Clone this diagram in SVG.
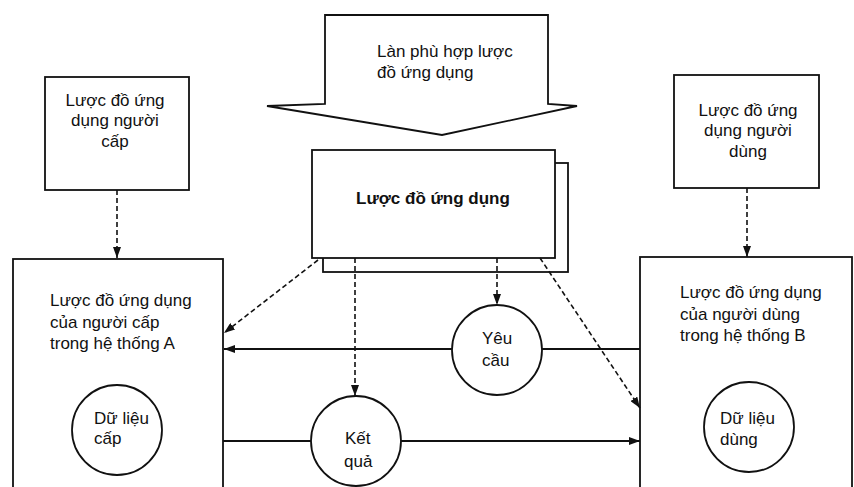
<svg xmlns="http://www.w3.org/2000/svg" width="854" height="487" viewBox="0 0 854 487">
<style>
.box{fill:#fff;stroke:#111;stroke-width:1.8}
.circ{fill:#fff;stroke:#111;stroke-width:1.8}
.t{font-family:"Liberation Sans",Arial,sans-serif;font-size:17px;fill:#111}
.tb{font-family:"Liberation Sans",Arial,sans-serif;font-size:17px;font-weight:bold;fill:#111}
.m{text-anchor:middle}
.dash{fill:none;stroke:#111;stroke-width:1.6;stroke-dasharray:5,3}
.solid{fill:none;stroke:#111;stroke-width:1.8}
</style>
<defs>
<marker id="ah" markerUnits="userSpaceOnUse" markerWidth="11" markerHeight="8" refX="11" refY="4" orient="auto">
<path d="M0,0 L11,4 L0,8 z" fill="#111"/>
</marker>
</defs>
<rect width="854" height="487" fill="#fff"/>
<g id="big-arrow">
<polygon class="box" points="325,15 548,15 548,104 577,106 442,135 267,106 325,104"/>
<text class="t" x="377" y="57">Làn phù hợp lược</text>
<text class="t" x="377" y="78">đồ ứng dụng</text>
</g>
<g id="app-schema">
<rect class="box" x="323" y="163" width="245" height="109"/>
<rect class="box" x="312" y="150" width="243" height="108"/>
<text class="tb m" x="433" y="204">Lược đồ ứng dụng</text>
</g>
<g id="supplier-schema">
<rect class="box" x="45" y="77" width="144" height="113"/>
<text class="t m" x="115" y="106">Lược đồ ứng</text>
<text class="t m" x="115" y="126">dụng người</text>
<text class="t m" x="115" y="147">cấp</text>
</g>
<g id="user-schema">
<rect class="box" x="674" y="75" width="145" height="113"/>
<text class="t m" x="748" y="116">Lược đồ ứng</text>
<text class="t m" x="748" y="136">dụng người</text>
<text class="t m" x="748" y="157">dùng</text>
</g>
<g id="system-a">
<rect class="box" x="13" y="259" width="210" height="240"/>
<text class="t" x="50" y="306">Lược đồ ứng dụng</text>
<text class="t" x="50" y="328">của người cấp</text>
<text class="t" x="50" y="349">trong hệ thống A</text>
</g>
<g id="data-a">
<circle class="circ" cx="117" cy="430" r="45"/>
<text class="t" x="94" y="424">Dữ liệu</text>
<text class="t" x="94" y="444">cấp</text>
</g>
<g id="system-b">
<rect class="box" x="640" y="257" width="212" height="240"/>
<text class="t" x="680" y="298">Lược đồ ứng dụng</text>
<text class="t" x="680" y="320">của người dùng</text>
<text class="t" x="680" y="341">trong hệ thống B</text>
</g>
<g id="data-b">
<circle class="circ" cx="749" cy="427" r="45"/>
<text class="t" x="720" y="424">Dữ liệu</text>
<text class="t" x="720" y="445">dùng</text>
</g>
<g id="request">
<circle class="circ" cx="497" cy="350" r="45"/>
<text class="t" x="482" y="344">Yêu</text>
<text class="t" x="482" y="366">cầu</text>
</g>
<g id="result">
<circle class="circ" cx="356" cy="441" r="45"/>
<text class="t" x="345" y="444">Kết</text>
<text class="t" x="344" y="467">quả</text>
</g>
<g id="connectors">
<line class="dash" x1="117" y1="190" x2="117" y2="258" marker-end="url(#ah)"/>
<line class="dash" x1="747" y1="188" x2="747" y2="257" marker-end="url(#ah)"/>
<line class="dash" x1="318" y1="260" x2="224" y2="333" marker-end="url(#ah)"/>
<line class="dash" x1="355" y1="258" x2="355" y2="396" marker-end="url(#ah)"/>
<line class="dash" x1="497" y1="258" x2="497" y2="305" marker-end="url(#ah)"/>
<line class="dash" x1="540" y1="258" x2="640" y2="408" marker-end="url(#ah)"/>
<line class="solid" x1="640" y1="349" x2="542" y2="349"/>
<line class="solid" x1="452" y1="349" x2="224" y2="349" marker-end="url(#ah)"/>
<line class="solid" x1="223" y1="441" x2="311" y2="441"/>
<line class="solid" x1="401" y1="441" x2="640" y2="441" marker-end="url(#ah)"/>
</g>
</svg>
